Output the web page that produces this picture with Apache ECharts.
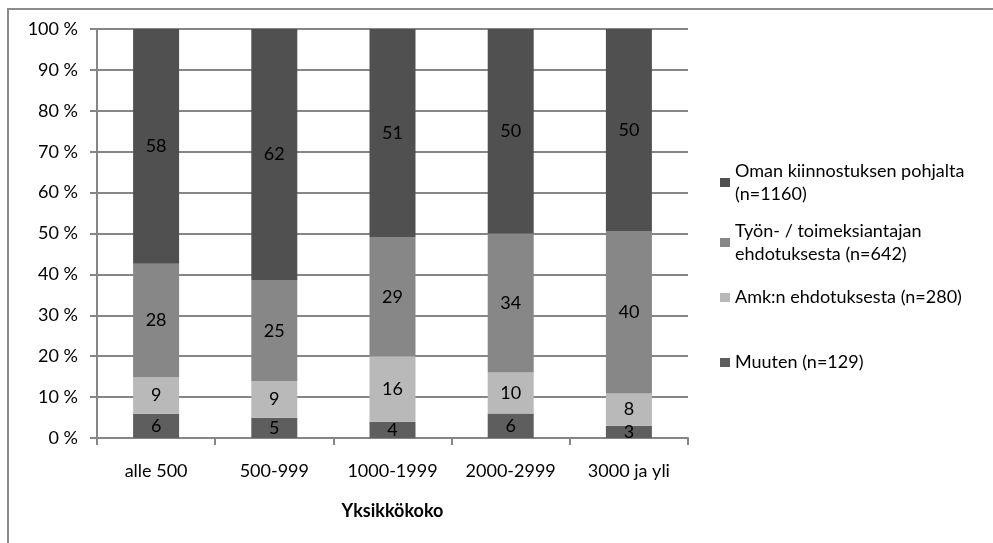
<!DOCTYPE html>
<html><head><meta charset="utf-8">
<script src="https://cdn.jsdelivr.net/npm/echarts@6/dist/echarts.min.js"></script>
<style>html,body{margin:0;padding:0;background:#fff}#c{width:993px;height:543px}</style>
</head><body><div id="c"></div>
<script>
const categories = ['alle 500', '500-999', '1000-1999', '2000-2999', '3000 ja yli'];
const muuten = [6, 5, 4, 6, 3];
const amk = [9, 9, 16, 10, 8];
const tyon = [28, 25, 29, 34, 40];
const oman = [58, 62, 51, 50, 50];
const seriesNames = ['Muuten (n=129)', 'Amk:n ehdotuksesta (n=280)', 'Työn- / toimeksiantajan\nehdotuksesta (n=642)', 'Oman kiinnostuksen pohjalta\n(n=1160)'];
const yTicks = ['0 %','10 %','20 %','30 %','40 %','50 %','60 %','70 %','80 %','90 %','100 %'];

const raw = [muuten, amk, tyon, oman];
const colors = ['#5e5e5e', '#b9b9b9', '#878787', '#505050'];
const totals = categories.map((_, i) => raw.reduce((s, a) => s + a[i], 0));
const font = 'Lato, Liberation Sans, Arial, sans-serif';
const fs = 18;

const series = raw.map((arr, k) => ({
  name: seriesNames[k],
  type: 'bar',
  stack: 's',
  barWidth: 46,
  itemStyle: { color: colors[k] },
  label: {
    show: true, position: 'inside', color: '#000', fontSize: fs, fontFamily: font,
    formatter: p => String(arr[p.dataIndex])
  },
  data: arr.map((v, i) => v / totals[i] * 100)
}));

const legendTops = [351, 286, 222, 162];
const legends = seriesNames.map((n, k) => ({
  data: [n], left: 720, top: legendTops[k], orient: 'vertical',
  itemWidth: 10, itemHeight: 9, itemGap: 0, icon: 'rect', padding: 0,
  textStyle: {
    fontSize: fs, fontFamily: font, color: '#000', lineHeight: 23,
    padding: n.indexOf('\n') >= 0 ? [0, 0, -23, 0] : 0
  }
}));

const chart = echarts.init(document.getElementById('c'));
chart.setOption({
  animation: false,
  graphic: [{ type: 'polyline', shape: { points: [[8, 543], [8, 9], [993, 9]] }, style: { stroke: '#8c8c8c', lineWidth: 2, fill: null } }],
  grid: { left: 97, right: 305, top: 29, bottom: 105 },
  legend: legends,
  xAxis: {
    type: 'category', data: categories,
    name: 'Yksikkökoko', nameLocation: 'middle', nameGap: 64,
    nameTextStyle: { fontWeight: 'bold', fontSize: fs, fontFamily: font, color: '#000' },
    axisLine: { lineStyle: { color: '#868686', width: 2 } },
    axisTick: { show: true, length: 7, lineStyle: { color: '#868686', width: 2 } },
    axisLabel: { fontSize: fs, fontFamily: font, color: '#000', margin: 24 }
  },
  yAxis: {
    type: 'value', min: 0, max: 100, interval: 10,
    axisLine: { show: true, lineStyle: { color: '#868686', width: 2 } },
    axisTick: { show: true, length: 7, lineStyle: { color: '#868686', width: 2 } },
    splitLine: { lineStyle: { color: '#868686', width: 2 } },
    axisLabel: { fontSize: fs, fontFamily: font, color: '#000', margin: 19, formatter: v => yTicks[Math.round(v / 10)] }
  },
  series: series
});
</script></body></html>
